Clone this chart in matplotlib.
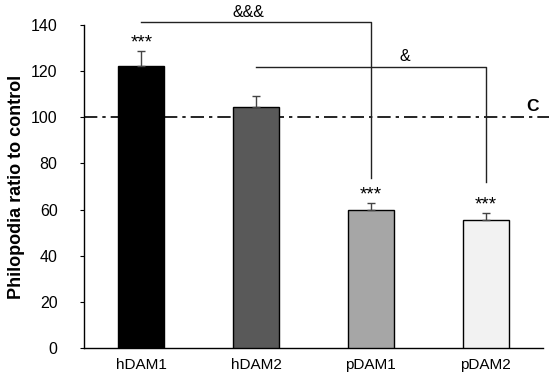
import matplotlib
matplotlib.use("Agg")
import matplotlib.pyplot as plt

plt.rcParams['font.family'] = ['Liberation Sans', 'DejaVu Sans']

categories = ["hDAM1", "hDAM2", "pDAM1", "pDAM2"]
values = [122.4, 104.4, 59.8, 55.5]
errors = [6.5, 5.0, 3.2, 3.1]
colors = ["#000000", "#595959", "#a6a6a6", "#f2f2f2"]
stars = ["***", "", "***", "***"]
control = 100

fig = plt.figure(figsize=(5.5, 3.8), dpi=100)
ax = fig.add_axes([0.1527, 0.0842, 0.8345, 0.8500])

x = list(range(len(categories)))
ax.bar(x, values, width=0.4, color=colors, edgecolor="black", linewidth=1.0, zorder=3)
ax.errorbar(x, values, yerr=[[0]*4, errors], fmt="none", ecolor="#444444",
            elinewidth=1.0, capsize=3, capthick=1.0, zorder=4)
for xi, v, e, s in zip(x, values, errors, stars):
    if s:
        ax.text(xi, v + e - 0.5, s, ha="center", va="bottom", fontsize=13.5)

ax.set_xlim(-0.5, 3.5)
ax.set_ylim(0, 140)
ax.set_yticks(range(0, 141, 20))
ax.set_xticks(x)
ax.set_xticklabels(categories, fontsize=11)
ax.tick_params(axis="x", length=0, pad=7)
ax.tick_params(axis="y", labelsize=11.5, length=3, direction="out", pad=16)
for sp in ["top", "right"]:
    ax.spines[sp].set_visible(False)
ax.spines["left"].set_linewidth(1.0)
ax.spines["bottom"].set_linewidth(1.0)

# control line
ax.plot([-0.5, 3.55], [control, control], color="black", linestyle=(0, (8, 3, 2, 3)),
        linewidth=1.2, clip_on=False, zorder=2)
ax.text(3.41, control + 1.3, "C", fontsize=12.5, fontweight="bold", ha="center", va="bottom")

# significance brackets
ax.plot([0, 2, 2], [141.3, 141.3, 73.7], color="#222222", linewidth=1.0, clip_on=False, zorder=5)
ax.text(0.93, 142.3, "&&&", ha="center", va="bottom", fontsize=11.5)
ax.plot([1, 3, 3], [122, 122, 72], color="#222222", linewidth=1.0, clip_on=False, zorder=5)
ax.text(2.3, 123, "&", ha="center", va="bottom", fontsize=11.5)

ax.set_ylabel("Philopodia ratio to control", fontsize=13, fontweight="bold", labelpad=4)

fig.savefig("out.png", dpi=100)
